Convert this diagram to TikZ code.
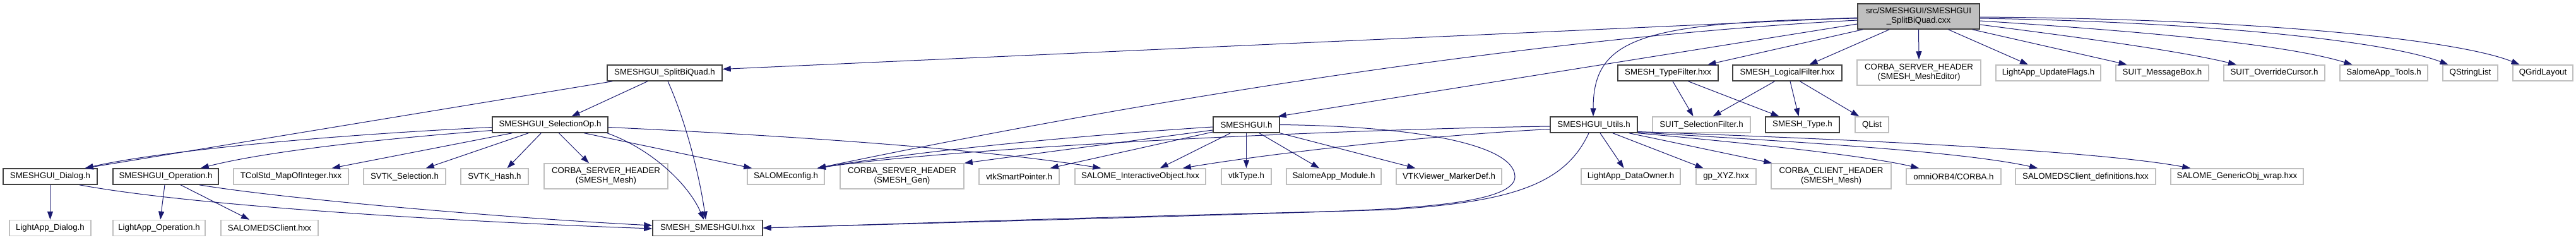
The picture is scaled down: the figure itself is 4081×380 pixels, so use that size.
\documentclass[tikz,border=0pt]{standalone}
\usepackage{fontspec}
\setmainfont{Liberation Sans}
\usetikzlibrary{arrows.meta,calc}
\definecolor{edgeblue}{HTML}{191970}
\definecolor{boxgray}{HTML}{BFBFBF}
\definecolor{boxdark}{HTML}{404040}

\begin{document}
\begin{tikzpicture}[x=1pt,y=-1pt,
  every node/.style={font=\fontsize{13.3}{15}\selectfont,inner sep=0pt,align=center},
  docbox/.style={draw=boxdark,line width=1.5pt,minimum height=25pt},
  extbox/.style={draw=boxgray,line width=1.5pt,minimum height=25pt},
  extbox2/.style={extbox,minimum height=40pt},
  rootbox/.style={docbox,fill=boxgray,minimum height=40pt},
  dep/.style={edgeblue,line width=1pt,-{Triangle[length=13pt,width=9pt]}}]
  \useasboundingbox (0,0) rectangle (4081,380);

  % the file itself
  \node[rootbox,minimum width=193pt] (main) at (3039.5,26) {src/SMESHGUI/SMESHGUI\\\_SplitBiQuad.cxx};

  % documented headers
  \foreach \nm/\cx/\cy/\bw/\txt in {
      splitH/1053/115.5/182/SMESHGUI\_SplitBiQuad.h,
      typeF/2642.5/115.5/159/SMESH\_TypeFilter.hxx,
      logicF/2831.5/115.5/173/SMESH\_LogicalFilter.hxx,
      selOp/871.5/197.5/183/SMESHGUI\_SelectionOp.h,
      guiH/1974.5/197.5/105/SMESHGUI.h,
      utils/2525/197.5/138/SMESHGUI\_Utils.h,
      typeH/2855.5/197.5/117/SMESH\_Type.h,
      dialog/79.5/279.5/149/SMESHGUI\_Dialog.h,
      oper/262.5/279.5/167/SMESHGUI\_Operation.h,
      smeshGui/1121/361/174/SMESH\_SMESHGUI.hxx}
    \node[docbox,minimum width=\bw pt] (\nm) at (\cx,\cy) {\txt};

  % external headers
  \foreach \nm/\cx/\cy/\bw/\txt in {
      updFl/3245/115.5/166/LightApp\_UpdateFlags.h,
      msgBox/3425.5/115.5/147/SUIT\_MessageBox.h,
      ovrCur/3603/115.5/160/SUIT\_OverrideCursor.h,
      appTools/3776.5/115.5/139/SalomeApp\_Tools.h,
      qsl/3913.5/115.5/87/QStringList,
      qgl/4028.5/115.5/95/QGridLayout,
      selFilt/2695.5/197.5/155/SUIT\_SelectionFilter.h,
      qlist/2965.5/197.5/53/QList,
      tcol/461/279.5/182/TColStd\_MapOfInteger.hxx,
      svtkSel/641/279.5/130/SVTK\_Selection.h,
      svtkHash/783.5/279.5/107/SVTK\_Hash.h,
      salCfg/1245/279.5/122/SALOMEconfig.h,
      vtkSP/1614.5/279.5/127/vtkSmartPointer.h,
      salIO/1806.5/279.5/207/SALOME\_InteractiveObject.hxx,
      vtkType/1974.5/279.5/79/vtkType.h,
      appMod/2113/279.5/150/SalomeApp\_Module.h,
      markDef/2295.5/279.5/167/VTKViewer\_MarkerDef.h,
      dataOwn/2583.5/279.5/157/LightApp\_DataOwner.h,
      gpXYZ/2734.5/279.5/95/gp\_XYZ.hxx,
      dsDef/3304/279.5/222/SALOMEDSClient\_definitions.hxx,
      genObj/3544/279.5/210/SALOME\_GenericObj\_wrap.hxx,
      lDialog/79.5/361/129/LightApp\_Dialog.h,
      lOper/252/361/146/LightApp\_Operation.h,
      dsCli/427/361/154/SALOMEDSClient.hxx}
    \node[extbox,minimum width=\bw pt] (\nm) at (\cx,\cy) {\txt};
  \node[extbox,minimum width=150pt] (omni) at (3095,279.5) {omniORB4/CORBA.h};
  \node[extbox2,minimum width=196pt] (meshEd) at (3040,115) {CORBA\_SERVER\_HEADER\\(SMESH\_MeshEditor)};
  \node[extbox2,minimum width=196pt] (corbaMesh) at (960,279) {CORBA\_SERVER\_HEADER\\(SMESH\_Mesh)};
  \node[extbox2,minimum width=196pt] (corbaGen) at (1429,279) {CORBA\_SERVER\_HEADER\\(SMESH\_Gen)};
  \node[extbox2,minimum width=190pt] (corbaCli) at (2901,279) {CORBA\_CLIENT\_HEADER\\(SMESH\_Mesh)};

  % includes of the .cxx
  \draw[dep] ($(main.west)+(0,2)$) -- ($(splitH.east)+(0,-6)$);
  \draw[dep] ($(main.west)+(0,3)$) .. controls (2600,35) and (2524,60) .. ($(utils.north)+(-1,0)$);
  \draw[dep] ($(main.west)+(0,6)$) .. controls (2500,55) and (1900,140) .. ($(salCfg.north)+(50,0)$);
  \draw[dep] ($(main.west)+(0,12)$) -- ($(guiH.north east)+(-3,0)$);
  \draw[dep] ($(main.south west)+(9,0)$) -- ($(typeF.north)+(63,0)$);
  \draw[dep] ($(main.south west)+(51,0)$) -- ($(logicF.north)+(35,0)$);
  \draw[dep] (main.south) -- (meshEd.north);
  \draw[dep] ($(main.south)+(47,0)$) -- ($(updFl.north)+(-32,0)$);
  \draw[dep] ($(main.south)+(85,0)$) -- ($(msgBox.north)+(-56,0)$);
  \draw[dep] ($(main.east)+(0,13)$) .. controls (3300,60) and (3450,80) .. ($(ovrCur.north)+(-60,0)$);
  \draw[dep] ($(main.east)+(0,7)$) .. controls (3400,50) and (3620,70) .. ($(appTools.north)+(-50,0)$);
  \draw[dep] ($(main.east)+(0,3)$) .. controls (3500,35) and (3780,65) .. ($(qsl.north)+(-35,0)$);
  \draw[dep] ($(main.east)+(0,1)$) .. controls (3600,30) and (3900,65) .. ($(qgl.north)+(-37,0)$);

  % SMESHGUI_SplitBiQuad.h
  \draw[dep] ($(splitH.south west)+(9,0)$) -- ($(dialog.north east)+(-20,0)$);
  \draw[dep] ($(splitH.south)+(-27,0)$) -- ($(selOp.north)+(34,0)$);
  \draw[dep] ($(splitH.south)+(5,0)$) .. controls (1090,200) and (1110,290) .. ($(smeshGui.north)+(-3,0)$);

  % SMESHGUI_SelectionOp.h
  \draw[dep] ($(selOp.west)+(0,4)$) .. controls (500,215) and (250,240) .. ($(dialog.north east)+(-20,0)$);
  \draw[dep] ($(selOp.west)+(0,9)$) .. controls (600,220) and (420,240) .. ($(oper.north east)+(-29,0)$);
  \draw[dep] ($(selOp.south west)+(32,0)$) -- ($(tcol.north east)+(-27,0)$);
  \draw[dep] ($(selOp.south west)+(58,0)$) -- ($(svtkSel.north east)+(-32,0)$);
  \draw[dep] ($(selOp.south west)+(78,0)$) -- ($(svtkHash.north)+(20,0)$);
  \draw[dep] ($(selOp.south)+(14,0)$) -- ($(corbaMesh.north)+(-27,0)$);
  \draw[dep] ($(selOp.south)+(54,0)$) -- ($(salCfg.north west)+(8,0)$);
  \draw[dep] ($(selOp.south east)+(-2,0)$) .. controls (1030,235) and (1090,290) .. ($(smeshGui.north)+(-6,0)$);
  \draw[dep] ($(selOp.east)+(0,4)$) .. controls (1250,215) and (1550,235) .. ($(salIO.north west)+(42,0)$);

  % SMESHGUI_Dialog.h and SMESHGUI_Operation.h
  \draw[dep] (dialog.south) -- (lDialog.north);
  \draw[dep] ($(dialog.south east)+(-29,0)$) .. controls (300,325) and (700,350) .. ($(smeshGui.west)+(0,1)$);
  \draw[dep] ($(oper.south)+(-1.5,0)$) -- ($(lOper.north)+(2,0)$);
  \draw[dep] ($(oper.south)+(23.5,0)$) -- ($(dsCli.north)+(-32,0)$);
  \draw[dep] ($(oper.south east)+(-31,0)$) .. controls (450,315) and (800,345) .. ($(smeshGui.west)+(0,-4)$);

  % SMESHGUI.h
  \draw[dep] ($(guiH.west)+(0,3.5)$) .. controls (1700,215) and (1450,240) .. ($(salCfg.north)+(50,0)$);
  \draw[dep] ($(guiH.west)+(0,8.5)$) -- (corbaGen.north east);
  \draw[dep] ($(guiH.west)+(0,11.5)$) -- ($(vtkSP.north east)+(-15,0)$);
  \draw[dep] ($(guiH.south west)+(28,0)$) -- ($(salIO.north east)+(-73,0)$);
  \draw[dep] (guiH.south) -- (vtkType.north);
  \draw[dep] ($(guiH.south)+(20.5,0)$) -- ($(appMod.north)+(-23,0)$);
  \draw[dep] (guiH.south east) -- ($(markDef.north west)+(31,0)$);
  \draw[dep] (guiH.east) .. controls (2250,200) and (2400,230) .. (2400,280)
    .. controls (2400,320) and (2250,330) .. (2100,335)
    .. controls (1700,345) and (1400,355) .. (smeshGui.east);

  % SMESHGUI_Utils.h
  \draw[dep] ($(utils.west)+(0,2.5)$) .. controls (2100,205) and (1500,235) .. ($(salCfg.north)+(50,0)$);
  \draw[dep] ($(utils.west)+(0,7)$) .. controls (2250,215) and (2000,245) .. ($(salIO.north east)+(-37,0)$);
  \draw[dep] ($(utils.south)+(-8,0)$) .. controls (2480,290) and (2400,320) .. (2200,332)
    .. controls (1800,345) and (1400,355) .. (smeshGui.east);
  \draw[dep] ($(utils.south)+(10,0)$) -- ($(dataOwn.north)+(-11,0)$);
  \draw[dep] ($(utils.south)+(30,0)$) -- ($(gpXYZ.north)+(-36,0)$);
  \draw[dep] ($(utils.south east)+(-14,0)$) -- ($(corbaCli.north west)+(2,0)$);
  \draw[dep] (utils.south east) .. controls (2750,225) and (2950,245) .. ($(omni.north west)+(21,0)$);
  \draw[dep] ($(utils.east)+(0,12)$) .. controls (2800,222) and (3100,238) .. ($(dsDef.north west)+(36,0)$);
  \draw[dep] ($(utils.east)+(0,11)$) .. controls (2850,218) and (3300,235) .. ($(genObj.north west)+(32,0)$);

  % filters
  \draw[dep] ($(typeF.south)+(7.5,0)$) -- ($(selFilt.north)+(-13,0)$);
  \draw[dep] ($(typeF.south)+(32,0)$) -- ($(typeH.north)+(-37,0)$);
  \draw[dep] ($(logicF.south)+(-20,0)$) -- ($(selFilt.north)+(18,0)$);
  \draw[dep] ($(logicF.south)+(4.5,0)$) -- ($(typeH.north)+(-6,0)$);
  \draw[dep] ($(logicF.south)+(20,0)$) -- ($(qlist.north west)+(7,0)$);
\end{tikzpicture}
\end{document}
